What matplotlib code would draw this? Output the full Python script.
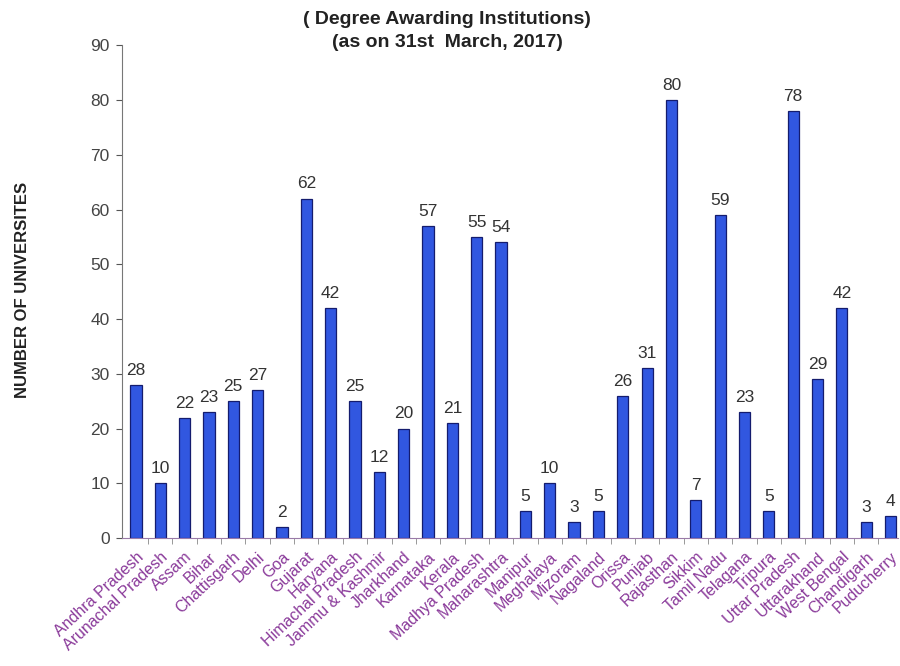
import matplotlib.pyplot as plt
from matplotlib import font_manager
import numpy as np

states = ["Andhra Pradesh", "Arunachal Pradesh", "Assam", "Bihar", "Chattisgarh", "Delhi",
          "Goa", "Gujarat", "Haryana", "Himachal Pradesh", "Jammu & Kashmir", "Jharkhand",
          "Karnataka", "Kerala", "Madhya Pradesh", "Maharashtra", "Manipur", "Meghalaya",
          "Mizoram", "Nagaland", "Orissa", "Punjab", "Rajasthan", "Sikkim", "Tamil Nadu",
          "Telagana", "Tripura", "Uttar Pradesh", "Uttarakhand", "West Bengal", "Chandigarh",
          "Puducherry"]
counts = [28, 10, 22, 23, 25, 27, 2, 62, 42, 25, 12, 20, 57, 21, 55, 54, 5, 10, 3, 5,
          26, 31, 80, 7, 59, 23, 5, 78, 29, 42, 3, 4]

plt.rcParams['font.family'] = ['Liberation Sans', 'DejaVu Sans']
names = {f.name for f in font_manager.fontManager.ttflist}
narrow = 'Liberation Sans Narrow' if 'Liberation Sans Narrow' in names else 'Liberation Sans'

fig = plt.figure(figsize=(9, 6.66), dpi=100)
ax = fig.add_axes([0.1356, 0.192, 0.862, 0.740])

x = np.arange(len(states))
ax.bar(x, counts, width=0.46, color='#3157e0', edgecolor='#141c6e', linewidth=0.9)
for xi, v in zip(x, counts):
    ax.text(xi, v + 1.3, str(v), ha='center', va='bottom', fontsize=12.5,
            family=narrow, color='#333333')

ax.set_xlim(-0.57, 31.3)
ax.set_ylim(0, 90)
ax.set_yticks(range(0, 91, 10))
ax.set_yticklabels([str(v) for v in range(0, 91, 10)], family=narrow)
ax.tick_params(axis='y', labelsize=12.5, labelcolor='#444444', direction='out',
               length=4, color='#555555', pad=5)
ax.set_xticks(x)
ax.set_xticklabels(states, rotation=43, ha='right', rotation_mode='anchor',
                   fontsize=11.5, color='#8a3a9a')
ax.set_xticks(x[:-1] + 0.5, minor=True)
ax.tick_params(axis='x', which='major', length=0, pad=8)
ax.tick_params(axis='x', which='minor', direction='out', length=4, color='#888888')
for s in ['top', 'right']:
    ax.spines[s].set_visible(False)
ax.spines['left'].set_color('#777777')
ax.spines['bottom'].set_color('#9a7aa8')

fig.text(0.025, 0.565, 'NUMBER OF UNIVERSITES', rotation=90, ha='center', va='center',
         fontsize=12, fontweight='bold', color='#222222')
fig.text(0.497, 0.971, '( Degree Awarding Institutions)', ha='center', va='center',
         fontsize=14, fontweight='bold', color='#222222')
fig.text(0.497, 0.936, '(as on 31st  March, 2017)', ha='center', va='center',
         fontsize=14, fontweight='bold', color='#222222')

fig.savefig('out.png', dpi=100)
